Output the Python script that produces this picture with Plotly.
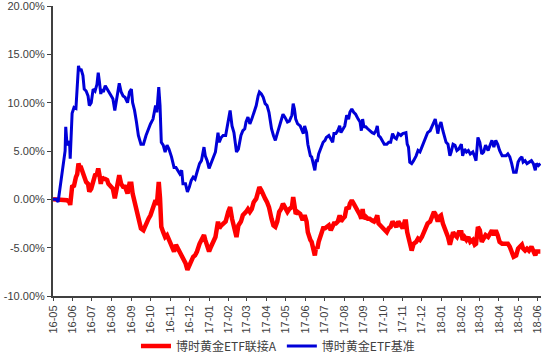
import pandas as pd
import plotly.graph_objects as go

# day offsets from 2016-05-01
days = [0, 5, 8, 13, 16, 19, 20, 22, 26, 27, 30, 33, 36, 38, 40, 42, 44, 47, 49, 52,
        55, 57, 60, 63, 66, 69, 71, 73, 75, 77, 79, 82, 85, 87, 91, 94, 97, 100, 104, 107,
        110, 113, 117, 120, 123, 125, 128, 131, 134, 138, 142, 146, 150, 153, 157, 161, 163, 166, 168, 170,
        173, 176, 179, 182, 186, 190, 193, 196, 199, 202, 204, 208, 211, 214, 217, 220, 223, 226, 230, 233,
        237, 239, 242, 245, 248, 252, 255, 259, 261, 264, 267, 271, 275, 278, 281, 284, 288, 291, 295, 298,
        301, 303, 306, 309, 312, 315, 319, 322, 324, 327, 330, 333, 336, 339, 343, 346, 349, 352, 355, 358,
        361, 364, 368, 371, 375, 377, 379, 381, 384, 388, 391, 393, 395, 398, 400, 402, 404, 406, 408, 411,
        413, 415, 417, 420, 422, 424, 427, 429, 433, 436, 439, 441, 444, 447, 450, 452, 455, 458, 461, 464,
        466, 469, 472, 475, 479, 482, 484, 486, 488, 491, 494, 497, 501, 504, 507, 509, 511, 514, 517, 520,
        524, 527, 530, 533, 536, 539, 542, 546, 549, 552, 554, 556, 558, 560, 563, 566, 570, 573, 576, 579,
        582, 585, 588, 592, 595, 598, 600, 602, 604, 606, 609, 612, 615, 617, 620, 623, 625, 628, 631, 634,
        637, 641, 643, 646, 649, 652, 655, 659, 662, 664, 667, 670, 673, 676, 679, 683, 686, 689, 692, 695,
        698, 701, 705, 708, 711, 714, 717, 720, 723, 727, 730, 733, 736, 738, 741, 744, 747, 751, 754, 757,
        759, 762, 765]

benchmark = [0, 0, -0.27, 2.0, 3.7, 5.0, 7.5, 5.6, 6.0, 4.2, 8.9, 9.5, 9.4, 12.1, 13.8, 13.3, 13.5, 12.8, 11.4, 11.2,
             10.7, 9.7, 10.0, 11.4, 11.2, 11.9, 13.1, 12.1, 10.9, 11.4, 11.1, 11.75, 11.4, 11.1, 10.7, 10.4, 9.2, 10.4, 12.0, 11.1,
             10.7, 10.55, 10.0, 11.1, 11.4, 10.0, 9.2, 8.0, 6.6, 5.7, 5.7, 6.6, 7.3, 7.8, 8.3, 9.7, 9.0, 11.6, 9.7, 5.9,
             5.6, 4.9, 5.6, 5.2, 4.4, 3.3, 3.3, 3.0, 2.65, 3.0, 1.6, 1.6, 0.76, 1.27, 1.96, 2.3, 2.1, 2.8, 3.7, 4.0,
             5.4, 4.5, 4.0, 3.2, 3.7, 4.2, 4.9, 6.9, 5.9, 6.4, 6.6, 6.6, 8.3, 9.2, 7.6, 6.9, 4.9, 5.2, 6.6, 7.1,
             7.3, 8.0, 8.5, 7.8, 8.3, 9.0, 9.7, 10.7, 11.1, 10.9, 10.55, 9.9, 9.7, 9.0, 7.3, 6.6, 6.1, 6.8, 7.5, 8.0,
             8.8, 8.5, 8.0, 8.1, 8.7, 9.9, 9.35, 8.3, 7.8, 7.6, 7.1, 6.8, 7.6, 6.9, 5.7, 5.2, 4.5, 4.4, 3.85, 3.0,
             4.0, 4.0, 4.7, 5.2, 5.7, 5.9, 6.1, 6.4, 6.6, 6.25, 5.9, 6.8, 6.8, 7.1, 7.6, 6.9, 7.3, 7.6, 8.7, 8.3,
             9.0, 9.35, 9.0, 8.8, 8.3, 8.0, 7.1, 8.3, 7.5, 7.5, 7.3, 7.1, 6.9, 6.8, 7.1, 7.6, 6.6, 6.4, 6.1, 5.7,
             5.7, 5.9, 5.9, 6.8, 6.4, 6.25, 6.8, 6.6, 6.8, 6.9, 6.9, 5.7, 5.4, 3.85, 3.7, 4.0, 4.5, 5.05, 4.9, 5.4,
             5.9, 6.6, 6.9, 7.1, 7.6, 8.1, 8.3, 7.6, 6.8, 7.5, 8.0, 7.1, 6.4, 5.9, 5.7, 4.5, 4.9, 5.7, 5.6, 5.05,
             5.2, 5.7, 4.5, 5.2, 4.9, 5.05, 4.7, 4.9, 4.4, 4.0, 6.4, 5.9, 4.7, 4.9, 5.6, 5.05, 5.6, 6.1, 5.4, 6.1,
             5.7, 5.05, 4.5, 4.5, 4.5, 4.7, 4.4, 3.7, 2.8, 2.8, 3.85, 4.2, 4.4, 3.85, 4.0, 3.7, 3.85, 4.0, 3.7, 3.0,
             3.7, 3.5, 3.7]

fund_a = [0, 0, 0, 0, 0, 0, 0, -0.1, -0.3, -0.6, 1.3, 1.4, 2.3, 2.6, 3.7, 3.3, 3.3, 2.7, 2.3, 1.8,
          1.6, 0.8, 1.1, 2.0, 2.5, 2.6, 3.2, 2.5, 1.6, 2.3, 2.1, 2.1, 2.0, 1.6, 1.3, 1.1, 0.1, 1.1, 2.5, 1.6,
          1.3, 1.3, 0.6, 1.6, 1.6, 0.6, -0.3, -1.3, -2.3, -3.0, -3.2, -2.5, -2.0, -1.65, -1.0, -0.1, -0.6, 1.8, 0.1, -2.85,
          -3.4, -3.9, -3.7, -4.2, -4.7, -5.4, -4.7, -5.1, -5.4, -5.8, -6.3, -6.6, -7.3, -6.8, -6.3, -5.95, -5.8, -5.4, -4.6, -4.2,
          -3.7, -4.2, -4.7, -5.4, -4.9, -4.4, -3.9, -2.3, -3.0, -2.7, -2.5, -2.3, -1.3, -0.8, -2.0, -2.7, -3.9, -2.7, -2.3, -1.65,
          -1.5, -1.3, -1.0, -1.3, -1.0, -0.3, 0.07, 1.1, 1.27, 0.93, 0.6, 0.07, -0.3, -0.8, -2.0, -2.7, -2.85, -2.3, -1.3, -1.0,
          -0.45, -0.8, -1.3, -1.0, -0.8, 0.24, -0.6, -1.5, -1.3, -1.5, -2.0, -2.0, -1.65, -2.3, -3.4, -3.9, -4.2, -4.4, -4.9, -5.8,
          -4.9, -5.1, -4.4, -3.7, -3.2, -3.0, -3.0, -2.85, -2.7, -3.2, -2.85, -2.5, -2.5, -2.3, -1.65, -2.3, -2.0, -1.8, -0.8, -1.0,
          -0.45, -0.1, -0.45, -0.8, -1.1, -1.65, -2.0, -1.0, -2.0, -1.8, -2.0, -2.0, -2.2, -2.3, -2.0, -1.65, -2.5, -2.7, -3.0, -3.2,
          -3.4, -3.0, -2.85, -2.3, -2.7, -2.85, -2.3, -2.7, -3.0, -2.3, -2.3, -3.4, -4.05, -4.9, -5.3, -4.6, -4.4, -4.05, -4.2, -3.9,
          -3.4, -2.85, -2.5, -2.3, -1.8, -1.3, -1.5, -2.2, -2.3, -1.8, -1.65, -2.5, -3.0, -3.5, -3.9, -4.7, -3.9, -3.4, -3.7, -3.9,
          -3.4, -3.4, -4.2, -3.9, -4.2, -3.9, -4.4, -4.2, -4.7, -4.6, -2.85, -3.2, -4.4, -4.05, -3.7, -3.9, -3.4, -3.2, -3.7, -3.2,
          -3.7, -4.4, -4.6, -4.6, -4.7, -4.6, -4.9, -5.4, -5.95, -5.8, -5.1, -4.9, -4.7, -5.1, -5.3, -5.1, -5.3, -4.9, -5.3, -5.8,
          -5.4, -5.4, -5.4]

y_ticks = [-10, -5, 0, 5, 10, 15, 20]
y_tick_labels = ["-10.00%", "-5.00%", "0.00%", "5.00%", "10.00%", "15.00%", "20.00%"]
series_names = ["博时黄金ETF联接A", "博时黄金ETF基准"]

dates = pd.Timestamp("2016-05-01") + pd.to_timedelta(days, unit="D")

fig = go.Figure()
fig.add_trace(go.Scatter(x=dates, y=fund_a, mode="lines", name=series_names[0],
                         line=dict(color="#FF0000", width=4.5)))
fig.add_trace(go.Scatter(x=dates, y=benchmark, mode="lines", name=series_names[1],
                         line=dict(color="#0000D8", width=3)))

axis_font = dict(family="Liberation Sans, Arial, sans-serif", size=11, color="#404040")

fig.update_layout(
    width=550, height=362,
    margin=dict(l=53, r=9, t=6, b=66, autoexpand=False),
    paper_bgcolor="white", plot_bgcolor="white",
    showlegend=True,
    legend=dict(orientation="h", x=0.461, xanchor="center", y=-0.172, yanchor="middle",
                font=dict(family="Noto Sans CJK SC, sans-serif", size=12, color="#404040"),
                itemwidth=30, tracegroupgap=0, bgcolor="rgba(0,0,0,0)"),
    xaxis=dict(type="date", range=["2016-05-01", "2018-06-06"],
               tick0="2016-05-01", dtick="M1", tickformat="%y-%m",
               tickangle=-90, tickfont=axis_font, ticklabeloverflow="allow",
               showgrid=False, zeroline=False,
               showline=True, linecolor="#404040", linewidth=2,
               ticks="outside", ticklen=3, tickcolor="#404040", tickwidth=1),
    yaxis=dict(range=[-10, 20], tickvals=y_ticks, ticktext=y_tick_labels,
               tickfont=axis_font, ticklabeloverflow="allow",
               showgrid=False, zeroline=False,
               showline=True, linecolor="#404040", linewidth=2,
               ticks="outside", ticklen=4, tickcolor="#404040", tickwidth=1),
)

fig.write_html("out.html",
               config={"displayModeBar": False},
               post_script="document.body.style.margin='0';document.body.style.padding='0';")
